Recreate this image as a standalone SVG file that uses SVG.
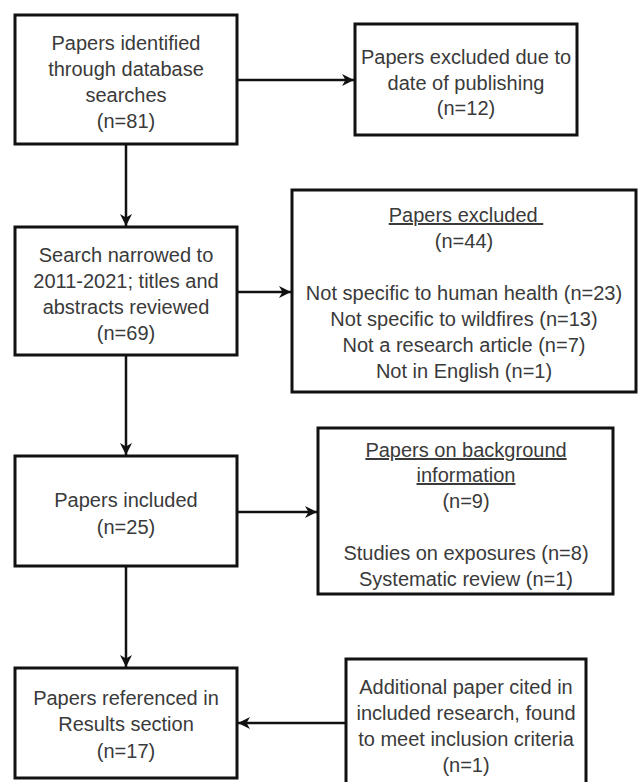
<svg xmlns="http://www.w3.org/2000/svg" width="638" height="782" viewBox="0 0 638 782">
<style>
.box{fill:#fff;stroke:#111;stroke-width:3}
.t{font-family:"Liberation Sans",Arial,sans-serif;font-size:20px;fill:#3a3a3a;text-anchor:middle}
.u{text-decoration:underline}
.c{fill:none;stroke:#111;stroke-width:2.5}
</style>
<defs>
<marker id="ah" markerUnits="userSpaceOnUse" markerWidth="14" markerHeight="14" viewBox="0 0 14 14" refX="13" refY="7" orient="auto">
<path d="M1,1 L13,7 L1,13 L4.5,7 Z" fill="#111"/>
</marker>
</defs>
<rect width="638" height="782" fill="#fff"/>
<g id="connectors">
<path class="c" d="M237,80 H354" marker-end="url(#ah)"/>
<path class="c" d="M126,144 V226" marker-end="url(#ah)"/>
<path class="c" d="M237,292 H291" marker-end="url(#ah)"/>
<path class="c" d="M126,355 V455" marker-end="url(#ah)"/>
<path class="c" d="M237,512 H317" marker-end="url(#ah)"/>
<path class="c" d="M126,566 V667" marker-end="url(#ah)"/>
<path class="c" d="M346,723 H238" marker-end="url(#ah)"/>
</g>
<g id="n1">
<rect class="box" x="15" y="15" width="222" height="129"/>
<text class="t" x="126" y="50">Papers identified</text>
<text class="t" x="126" y="76">through database</text>
<text class="t" x="126" y="102">searches</text>
<text class="t" x="126" y="128">(n=81)</text>
</g>
<g id="n2">
<rect class="box" x="355" y="24" width="222" height="111"/>
<text class="t" x="466" y="64">Papers excluded due to</text>
<text class="t" x="466" y="89.5">date of publishing</text>
<text class="t" x="466" y="115">(n=12)</text>
</g>
<g id="n3">
<rect class="box" x="15" y="227" width="222" height="128"/>
<text class="t" x="126" y="262">Search narrowed to</text>
<text class="t" x="126" y="288">2011-2021; titles and</text>
<text class="t" x="126" y="314">abstracts reviewed</text>
<text class="t" x="126" y="340">(n=69)</text>
</g>
<g id="n4">
<rect class="box" x="292" y="190" width="344" height="202"/>
<text class="t u" x="466" y="222" xml:space="preserve">Papers excluded </text>
<text class="t" x="464" y="248">(n=44)</text>
<text class="t" x="464" y="300">Not specific to human health (n=23)</text>
<text class="t" x="464" y="326">Not specific to wildfires (n=13)</text>
<text class="t" x="464" y="352">Not a research article (n=7)</text>
<text class="t" x="464" y="378">Not in English (n=1)</text>
</g>
<g id="n5">
<rect class="box" x="15" y="456" width="222" height="110"/>
<text class="t" x="126" y="507">Papers included</text>
<text class="t" x="126" y="534">(n=25)</text>
</g>
<g id="n6">
<rect class="box" x="318" y="428" width="295" height="166"/>
<text class="t u" x="466" y="457">Papers on background</text>
<text class="t u" x="466" y="482">information</text>
<text class="t" x="466" y="508">(n=9)</text>
<text class="t" x="466" y="560">Studies on exposures (n=8)</text>
<text class="t" x="466" y="586">Systematic review (n=1)</text>
</g>
<g id="n7">
<rect class="box" x="15" y="668" width="222" height="110"/>
<text class="t" x="126" y="705">Papers referenced in</text>
<text class="t" x="126" y="731">Results section</text>
<text class="t" x="126" y="758">(n=17)</text>
</g>
<g id="n8">
<rect class="box" x="346" y="659" width="240" height="130"/>
<text class="t" x="466" y="694">Additional paper cited in</text>
<text class="t" x="466" y="720">included research, found</text>
<text class="t" x="466" y="746">to meet inclusion criteria</text>
<text class="t" x="466" y="772">(n=1)</text>
</g>
</svg>
